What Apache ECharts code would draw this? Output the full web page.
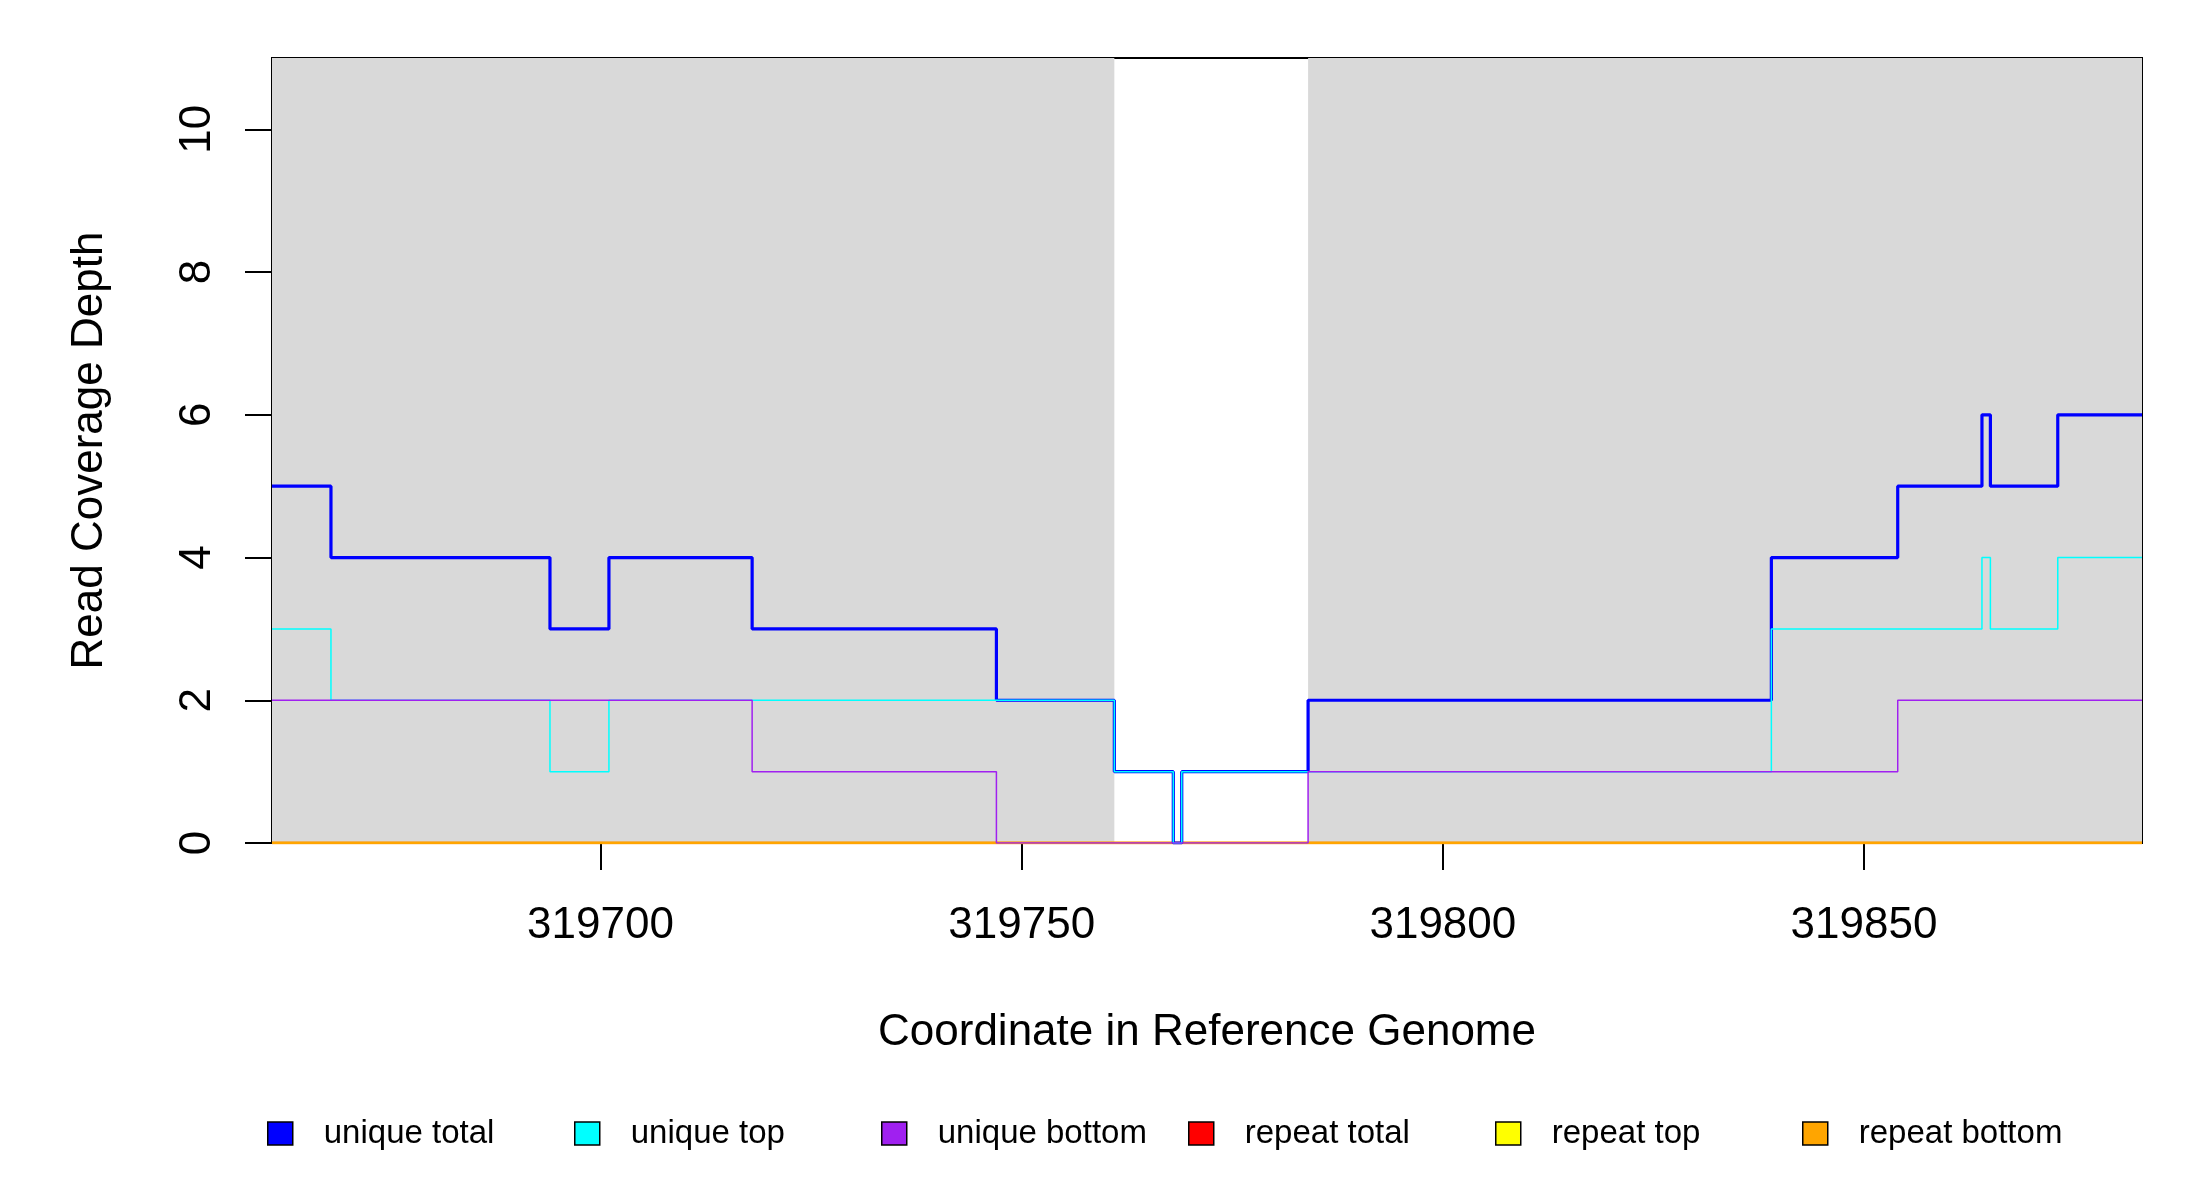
<!DOCTYPE html>
<html>
<head>
    <meta charset="utf-8">
    <title>Read Coverage Depth</title>
    <script src="https://cdn.jsdelivr.net/npm/echarts@6.0.0/dist/echarts.min.js"></script>
    <style>
        html, body { margin: 0; padding: 0; background: #fff; }
        #main { width: 2200px; height: 1200px; }
    </style>
</head>
<body>
    <div id="main"></div>
    <script type="text/javascript">
        // step start coordinates, each value holds until the next start
        const stepStarts = [319661, 319668, 319694, 319701, 319718, 319747, 319761, 319768,
                            319769, 319784, 319839, 319854, 319864, 319865, 319873];
        const stepEnd = 319883;
        const uniqueTotal  = [5, 4, 3, 4, 3, 2, 1, 0, 1, 2, 4, 5, 6, 5, 6];
        const uniqueTop    = [3, 2, 1, 2, 2, 2, 1, 0, 1, 1, 3, 3, 4, 3, 4];
        const uniqueBottom = [2, 2, 2, 2, 1, 0, 0, 0, 0, 1, 1, 2, 2, 2, 2];
        const repeatTotal  = [0, 0, 0, 0, 0, 0, 0, 0, 0, 0, 0, 0, 0, 0, 0];
        const repeatTop    = [0, 0, 0, 0, 0, 0, 0, 0, 0, 0, 0, 0, 0, 0, 0];
        const repeatBottom = [0, 0, 0, 0, 0, 0, 0, 0, 0, 0, 0, 0, 0, 0, 0];
        const xTicks = [319700, 319750, 319800, 319850];
        const yTicks = [0, 2, 4, 6, 8, 10];
        const shadedRegions = [[319661, 319761], [319784, 319883]];
        const legendNames = ['unique total', 'unique top', 'unique bottom', 'repeat total', 'repeat top', 'repeat bottom'];

        const FONT = 'Liberation Sans';

        function toSteps(values) {
            const pts = stepStarts.map((x, i) => [x, values[i]]);
            pts.push([stepEnd, values[values.length - 1]]);
            return pts;
        }

        function stepSeries(name, values, color, width, extra) {
            return Object.assign({
                name: name,
                type: 'line',
                step: 'end',
                showSymbol: false,
                symbol: 'none',
                silent: true,
                data: toSteps(values),
                itemStyle: { color: color },
                lineStyle: { color: color, width: width }
            }, extra || {});
        }

        // one legend block per entry so the entries sit on an even pitch
        function legendBlock(name, i) {
            return {
                data: [name],
                left: 262 + i * 307,
                top: 1112,
                icon: 'rect',
                itemWidth: 25,
                itemHeight: 23,
                itemStyle: { borderColor: '#000', borderWidth: 1.5 },
                formatter: function (n) {
                    return '{g|}' + n;
                },
                textStyle: {
                    fontFamily: FONT,
                    fontSize: 33,
                    color: '#000',
                    rich: { g: { width: 26 } }
                }
            };
        }

        var chart = echarts.init(document.getElementById('main'));

        const option = {
            animation: false,
            backgroundColor: '#ffffff',
            textStyle: { fontFamily: FONT },
            grid: {
                left: 272,
                right: 58,
                top: 58,
                bottom: 357,
                show: true,
                borderColor: '#000',
                borderWidth: 2,
                backgroundColor: '#ffffff'
            },
            legend: legendNames.map(legendBlock),
            xAxis: {
                type: 'value',
                min: stepStarts[0],
                max: stepEnd,
                name: 'Coordinate in Reference Genome',
                nameLocation: 'middle',
                nameGap: 168,
                nameTextStyle: { fontFamily: FONT, fontSize: 44, color: '#000' },
                axisLine: { show: true, onZero: false, lineStyle: { color: '#000', width: 2 } },
                axisTick: {
                    show: true,
                    length: 27,
                    customValues: xTicks,
                    lineStyle: { color: '#000', width: 2 }
                },
                axisLabel: {
                    customValues: xTicks,
                    margin: 61,
                    fontFamily: FONT,
                    fontSize: 44,
                    color: '#000',
                    formatter: function (v) { return String(v); }
                },
                splitLine: { show: false }
            },
            yAxis: {
                type: 'value',
                min: 0,
                max: 11,
                name: 'Read Coverage Depth',
                nameLocation: 'middle',
                nameRotate: 90,
                nameGap: 160,
                nameTextStyle: { fontFamily: FONT, fontSize: 44, color: '#000' },
                axisLine: { show: true, lineStyle: { color: '#000', width: 2 } },
                axisTick: {
                    show: true,
                    length: 27,
                    customValues: yTicks,
                    lineStyle: { color: '#000', width: 2 }
                },
                axisLabel: {
                    customValues: yTicks,
                    rotate: 90,
                    margin: 52,
                    fontFamily: FONT,
                    fontSize: 44,
                    color: '#000'
                },
                splitLine: { show: false }
            },
            series: [
                stepSeries('repeat total', repeatTotal, '#FF0000', 2.5, {
                    markArea: {
                        silent: true,
                        itemStyle: { color: '#D9D9D9', opacity: 1 },
                        data: shadedRegions.map(r => [{ xAxis: r[0] }, { xAxis: r[1] }])
                    }
                }),
                stepSeries('repeat top', repeatTop, '#FFFF00', 2.5),
                stepSeries('repeat bottom', repeatBottom, '#FFA500', 2.5),
                stepSeries('unique total', uniqueTotal, '#0000FF', 3.2),
                stepSeries('unique top', uniqueTop, '#00FFFF', 1.5),
                stepSeries('unique bottom', uniqueBottom, '#A020F0', 1.5)
            ]
        };

        chart.setOption(option);

        window.addEventListener('resize', function () {
            chart.resize();
        });
    </script>
</body>
</html>
